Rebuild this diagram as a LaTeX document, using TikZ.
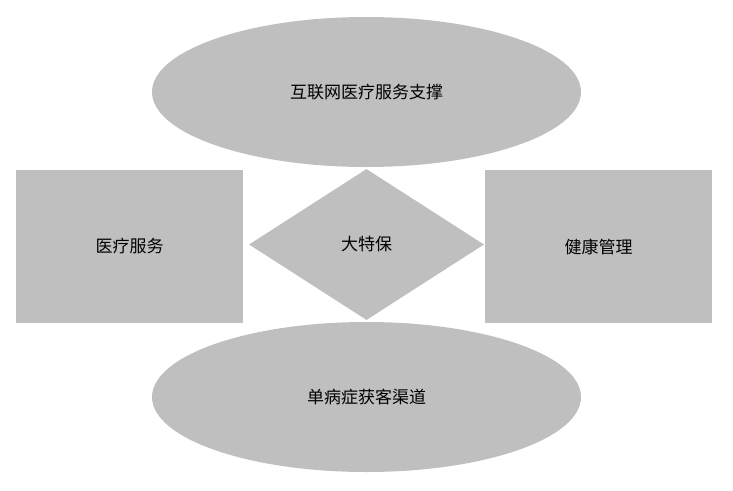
\documentclass[tikz,border=0pt]{standalone}
\usepackage{fontspec}
\setmainfont{Noto Sans CJK SC}
\usetikzlibrary{shapes.geometric}
\definecolor{boxgray}{HTML}{BFBFBF}
\tikzset{
  shapebox/.style={fill=boxgray, draw=none, inner sep=0pt, font=\fontsize{17}{20}\selectfont},
  ell/.style={shapebox, ellipse, minimum width=429pt, minimum height=150pt},
  rectbox/.style={shapebox, rectangle, minimum width=227pt, minimum height=153pt},
  dia/.style={shapebox, diamond, minimum width=235pt, minimum height=151pt, aspect=1.55}
}
\begin{document}
\begin{tikzpicture}[x=1pt,y=-1pt]
\useasboundingbox (0,0) rectangle (733,490);
\node[ell] (top) at (366.5,92) {互联网医疗服务支撑};
\node[ell] (bottom) at (366.5,397) {单病症获客渠道};
\node[rectbox] (left) at (129.5,246.5) {医疗服务};
\node[rectbox] (right) at (598.5,246.5) {健康管理};
\node[dia] (center) at (366.5,244.5) {大特保};
\end{tikzpicture}
\end{document}
